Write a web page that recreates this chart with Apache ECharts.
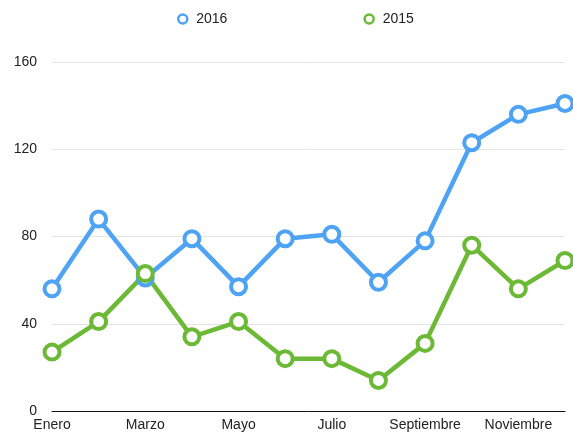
<!DOCTYPE html>
<html>
<head>
<meta charset="utf-8">
<script src="https://cdn.jsdelivr.net/npm/echarts@6/dist/echarts.min.js"></script>
<style>html,body{margin:0;padding:0;background:#fff;}#c{width:573px;height:434px;}</style>
</head>
<body>
<div id="c"></div>
<script>
const categories = ['Enero','Febrero','Marzo','Abril','Mayo','Junio','Julio','Agosto','Septiembre','Octubre','Noviembre','Diciembre'];
const values2016 = [56, 88, 61, 79, 57, 79, 81, 59, 78, 123, 136, 141];
const values2015 = [27, 41, 63, 34, 41, 24, 24, 14, 31, 76, 56, 69];
const yTicks = [0, 40, 80, 120, 160];

const chart = echarts.init(document.getElementById('c'), null, {renderer: 'canvas'});
const font = 'Liberation Sans, Arial, Helvetica, sans-serif';
function mkSeries(name, data, color) {
  return {
    name: name, type: 'line', data: data,
    symbol: 'circle', symbolSize: 15, showSymbol: true,
    lineStyle: {color: color, width: 4.5},
    itemStyle: {color: '#fff', borderColor: color, borderWidth: 4},
    emphasis: {disabled: true}, animation: false
  };
}
chart.setOption({
  animation: false,
  textStyle: {fontFamily: font},
  color: ['#4ea3f4', '#6bb934'],
  legend: {
    top: 7, left: 172, itemGap: 136, itemWidth: 9, itemHeight: 9,
    icon: 'circle',
    textStyle: {fontSize: 14, color: '#222', fontFamily: font, padding: [0, 0, 0, 4]},
    data: [
      {name: '2016', icon: 'circle', itemStyle: {color: '#fff', borderColor: '#4ea3f4', borderWidth: 2.5}},
      {name: '2015', icon: 'circle', itemStyle: {color: '#fff', borderColor: '#6bb934', borderWidth: 2.5}}
    ]
  },
  grid: {left: 52, right: 8, top: 62, bottom: 23, containLabel: false},
  xAxis: {
    type: 'category', data: categories, boundaryGap: false,
    axisLine: {lineStyle: {color: '#111', width: 1}},
    axisTick: {show: false},
    axisLabel: {interval: 1, color: '#222', fontSize: 14, margin: 7, fontFamily: font},
    splitLine: {show: false}
  },
  yAxis: {
    type: 'value', min: yTicks[0], max: yTicks[yTicks.length-1], interval: 40,
    axisLine: {show: false}, axisTick: {show: false},
    axisLabel: {color: '#222', fontSize: 14, margin: 15, fontFamily: font},
    splitLine: {lineStyle: {color: '#e4e4e4', width: 1}}
  },
  series: [mkSeries('2016', values2016, '#4ea3f4'), mkSeries('2015', values2015, '#6bb934')]
});
</script>
</body>
</html>
